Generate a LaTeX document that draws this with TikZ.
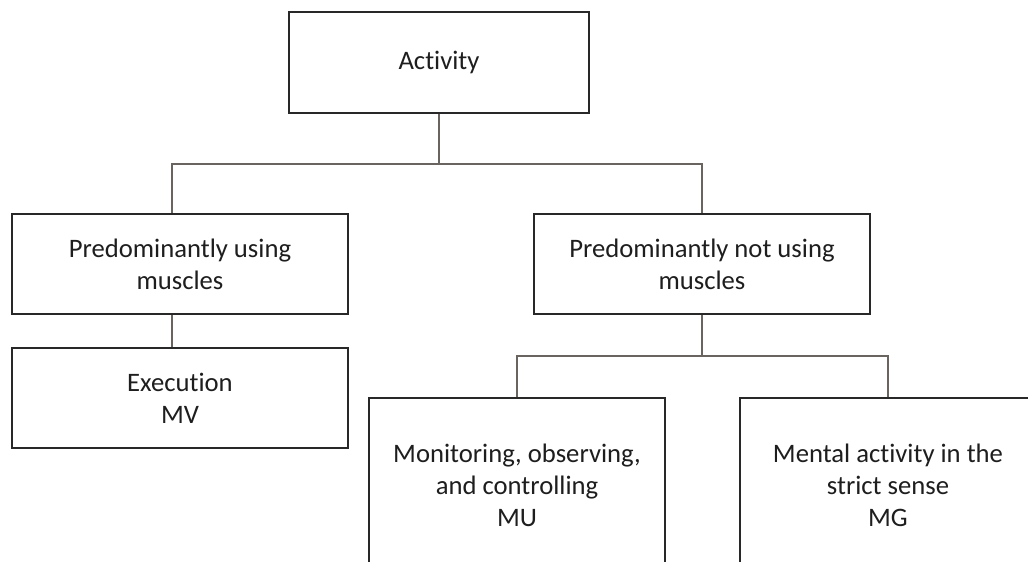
\documentclass[tikz,border=0pt]{standalone}
\usepackage{fontspec}
\setmainfont[Ligatures=NoCommon]{Carlito}
\usepackage{tikz}
\usetikzlibrary{positioning}
\usepackage{xcolor}
\definecolor{boxline}{RGB}{40,40,40}
\definecolor{linkgray}{RGB}{105,100,96}
\definecolor{txt}{RGB}{30,30,30}

\begin{document}
\begin{tikzpicture}[x=0.75pt, y=-0.75pt,
  block/.style={draw=boxline, line width=1.2pt, align=center, text=txt, font=\fontsize{20}{24}\selectfont, minimum width=252pt, minimum height=75pt, inner sep=0pt},
  leaf/.style={block, minimum width=222pt, minimum height=130.5pt},
  link/.style={draw=linkgray, line width=1.7pt}]
\clip (0,0) rectangle (1028,561);
\fill[white] (0,0) rectangle (1028,561);
\node[block, minimum width=225pt, minimum height=75.75pt] (act) at (439,62.5) {Activity};
\node[block] (muscle) at (180,264) {Predominantly using\\muscles};
\node[block] (notm) at (702,264) {Predominantly not using\\muscles};
\node[block] (exec) at (180,398) {Execution\\MV};
\node[leaf] (monit) at (517,485) {Monitoring, observing,\\and controlling\\MU};
\node[leaf] (mg) at (888,485) {Mental activity in the\\strict sense\\MG};
% connectors
\draw[link] (act.south) -- (act.south |- 0,164) coordinate (tbus);
\draw[link] ([xshift=-6pt]muscle.north) |- (notm.north |- tbus) -- (notm.north);
\draw[link] ([xshift=-6pt]muscle.south) -- ([xshift=-6pt]exec.north);
\draw[link] (notm.south) -- (notm.south |- 0,356) coordinate (lbus);
\draw[link] (monit.north) |- (lbus) -| (mg.north);
\end{tikzpicture}
\end{document}
